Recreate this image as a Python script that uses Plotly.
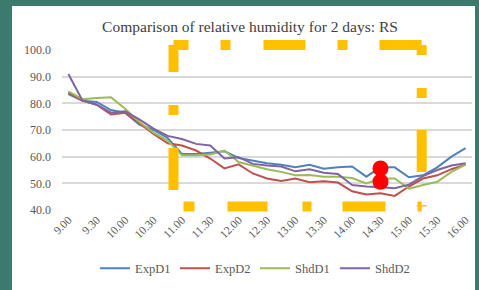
import plotly.graph_objects as go

TIMES = ["9.00", "9.15", "9.30", "9.45", "10.00", "10.15", "10.30", "10.45", "11.00", "11.15",
         "11.30", "11.45", "12.00", "12.15", "12.30", "12.45", "13.00", "13.15", "13.30", "13.45",
         "14.00", "14.15", "14.30", "14.45", "15.00", "15.15", "15.30", "15.45", "16.00"]
TICK_LABELS = ["9.00", "9.30", "10.00", "10.30", "11.00", "11.30", "12.00", "12.30",
               "13.00", "13.30", "14.00", "14.30", "15.00", "15.30", "16.00"]

EXP_D1 = [83.5, 81, 80.5, 77.5, 76.5, 72, 70, 67, 61, 61, 61.5, 62, 59.5, 58.5, 57.5,
          57, 56, 57, 55.5, 56, 56.3, 52.5, 56, 56, 52.3, 53, 56, 60, 63.2]
EXP_D2 = [84, 81, 79.5, 75.8, 76.5, 72.5, 68.5, 65, 64.2, 62.3, 59.3, 55.6, 57.1, 53.7, 51.8,
          50.9, 51.8, 50.4, 50.8, 50.3, 47, 45.8, 46.3, 45.3, 48.8, 51.8, 53, 55.3, 57]
SHD_D1 = [84.5, 81.5, 82, 82.3, 78, 73, 69, 66, 60.5, 60.5, 60.8, 62.3, 58, 56.7, 55.3,
          54.3, 53, 53.1, 52.5, 52.5, 52, 50, 51.8, 51.8, 48, 49.4, 50.6, 54.3, 57]
SHD_D2 = [91, 81, 79.5, 76.5, 77, 74, 70.5, 67.8, 66.6, 64.8, 64.2, 59.3, 59.8, 57.3, 56.7,
          56.3, 54.5, 55.3, 54, 53.5, 49.4, 48.8, 48.5, 48.2, 49.5, 52.7, 55, 56.7, 57.5]

DOT_X = ["14.30", "14.30"]
DOT_Y = [55.6, 50.6]

SERIES = [("ExpD1", EXP_D1, "#4F81BD"), ("ExpD2", EXP_D2, "#C0504D"),
          ("ShdD1", SHD_D1, "#9BBB59"), ("ShdD2", SHD_D2, "#8064A2")]

SERIF = "Liberation Serif, Times New Roman, serif"

fig = go.Figure()
for name, vals, col in SERIES:
    fig.add_trace(go.Scatter(x=TIMES, y=vals, name=name, mode="lines",
                             line=dict(color=col, width=2)))
fig.add_trace(go.Scatter(x=DOT_X, y=DOT_Y, mode="markers", showlegend=False,
                         marker=dict(color="#FF0000", size=16)))

# plot area in pixels: left 62, right 472, top 50, bottom 214
L, R, T, B = 62, 472, 50, 214
W, H = R - L, B - T
def px(x):
    return (x - L) / W
def py(y):
    return (B - y) / H

shapes = []
# white panel on teal background
shapes.append(dict(type="rect", xref="paper", yref="paper", layer="below",
                   x0=px(12), x1=px(475), y0=py(300), y1=py(5),
                   fillcolor="white", line=dict(width=0)))
GOLD = "#FFC000"
xl, xr, yt, yb = 173.5, 421.7, 45, 210.5
shapes.append(dict(type="line", xref="paper", yref="paper", x0=px(xl), x1=px(xr), y0=py(yt), y1=py(yt),
                   line=dict(color=GOLD, width=10,
                             dash="15px,32px,10px,33px,42px,32px,10px,32px,50px,50px")))
shapes.append(dict(type="line", xref="paper", yref="paper", x0=px(xl), x1=px(xl), y0=py(yt), y1=py(yb),
                   line=dict(color=GOLD, width=10, dash="27px,33px,10px,33px,42px,60px")))
shapes.append(dict(type="line", xref="paper", yref="paper", x0=px(xr), x1=px(xr), y0=py(yt), y1=py(yb),
                   line=dict(color=GOLD, width=10, dash="10px,33px,10px,32px,42px,33px,20px,20px")))
shapes.append(dict(type="line", xref="paper", yref="paper", x0=px(xl), x1=px(xr), y0=py(yb), y1=py(yb),
                   line=dict(color=GOLD, width=10,
                             dash="0px,10px,11px,33px,40px,35px,9px,31px,43px,32px,10px,20px")))

fig.update_layout(
    width=479, height=290,
    margin=dict(l=L, r=479 - R, t=T, b=290 - B, pad=0),
    paper_bgcolor="#3B7A6D", plot_bgcolor="white",
    shapes=shapes,
    title=dict(text="Comparison of relative humidity for 2 days: RS", xref="container",
               x=250 / 479, xanchor="center", y=1 - 27 / 290, yanchor="middle",
               font=dict(family=SERIF, size=15.5, color="#404040")),
    showlegend=True,
    legend=dict(orientation="h", x=px(95), xanchor="left", y=py(274), yanchor="middle",
                entrywidth=35, font=dict(family=SERIF, size=12.5, color="#595959"),
                bgcolor="rgba(0,0,0,0)"),
    xaxis=dict(type="category", range=[-0.45, 28.45], tickmode="array", tickvals=TICK_LABELS,
               ticktext=TICK_LABELS, tickangle=-45, showgrid=False, zeroline=False,
               showline=False, ticks="",
               tickfont=dict(family=SERIF, size=11.5, color="#595959")),
    yaxis=dict(range=[40, 100], dtick=10, tickformat=".1f", showgrid=True, gridcolor="#D9D9D9",
               gridwidth=1.5, zeroline=False, showline=False, ticks="", ticklabelstandoff=10,
               tickfont=dict(family=SERIF, size=12, color="#595959")),
)
fig.write_html("out.html", post_script="document.body.style.margin='0';",
               config={"displayModeBar": False})
